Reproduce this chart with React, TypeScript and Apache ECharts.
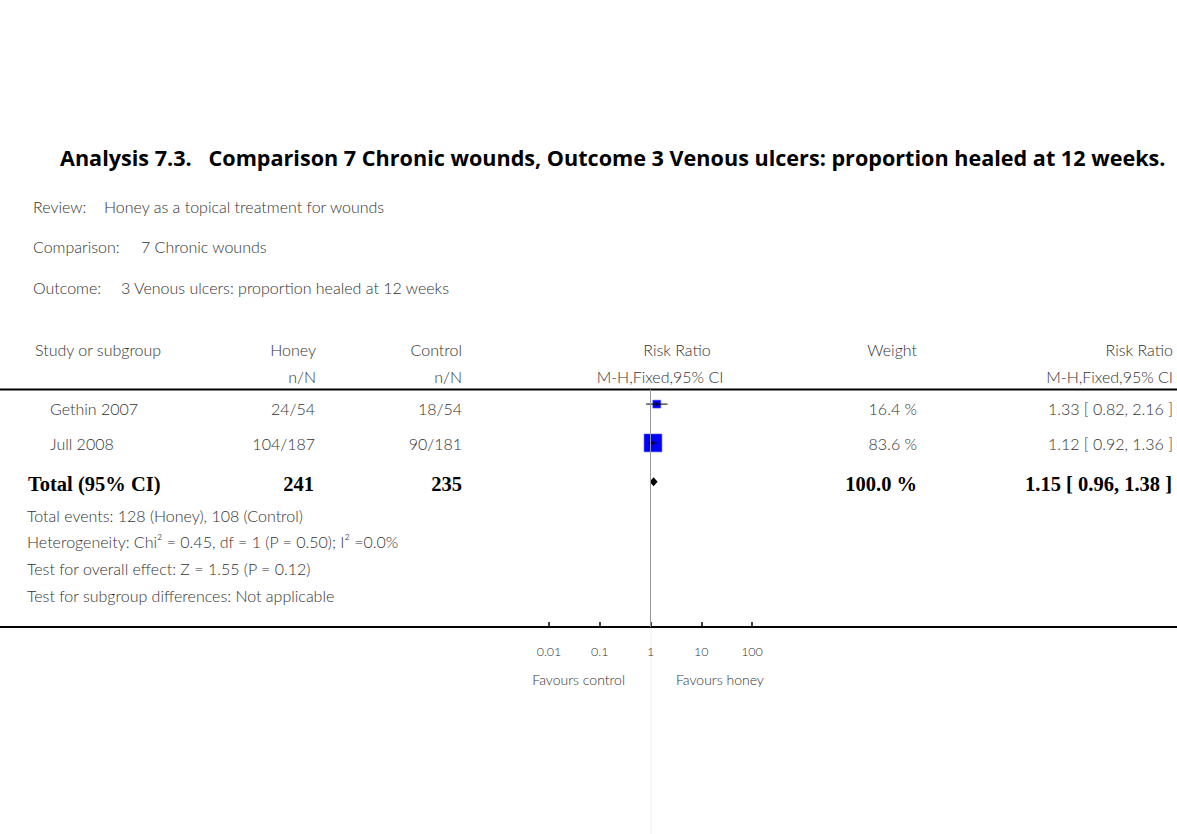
import React, { useEffect, useRef } from "react";
import * as echarts from "echarts";

const studies = ["Gethin 2007", "Jull 2008"];
const honeyEvents = [24, 104];
const honeyTotals = [54, 187];
const controlEvents = [18, 90];
const controlTotals = [54, 181];
const weights = [16.4, 83.6];
const ratios = [1.33, 1.12];
const lowerCI = [0.82, 0.92];
const upperCI = [2.16, 1.36];

const totalHoney = 241;
const totalControl = 235;
const totalWeight = 100.0;
const totalRatio = 1.15;
const totalLower = 0.96;
const totalUpper = 1.38;

const tickValues = [0.01, 0.1, 1, 10, 100];
const tickLabels = ["0.01", "0.1", "1", "10", "100"];

const titleText =
  "Analysis 7.3.   Comparison 7 Chronic wounds, Outcome 3 Venous ulcers: proportion healed at 12 weeks.";
const metaLabels = ["Review:", "Comparison:", "Outcome:"];
const metaValues = [
  "Honey as a topical treatment for wounds",
  "7 Chronic wounds",
  "3 Venous ulcers: proportion healed at 12 weeks",
];
const noteLines = [
  "Total events: 128 (Honey), 108 (Control)",
  "Heterogeneity: Chi² = 0.45, df = 1 (P = 0.50); I² =0.0%",
  "Test for overall effect: Z = 1.55 (P = 0.12)",
  "Test for subgroup differences: Not applicable",
];

const SANS = "Lato, 'Open Sans', sans-serif";
const SERIF = "'Liberation Serif', 'DejaVu Serif', serif";
const TXT = "#333";

function txt(text: string, x: number, y: number, opts: any = {}) {
  const align = opts.align || "left";
  return {
    type: "text",
    x,
    y,
    silent: true,
    style: {
      text,
      fill: opts.fill || TXT,
      fontSize: opts.fontSize || 16,
      fontFamily: opts.fontFamily || SANS,
      fontWeight: opts.fontWeight || 300,
      align,
      textAlign: align,
      verticalAlign: "middle",
      textVerticalAlign: "middle",
    },
  };
}

const fmt2 = (v: number) => v.toFixed(2);

export default function App() {
  const ref = useRef<HTMLDivElement>(null);
  useEffect(() => {
    if (!ref.current) return;
    const chart = echarts.init(ref.current, undefined, { renderer: "svg" });

    const rowY = [408, 443];
    const totalY = 484;

    const graphics: any[] = [];
    graphics.push(
      txt(titleText, 60, 157, {
        fontSize: 21.6,
        fontWeight: "bold",
        fill: "#000",
        fontFamily: "'Open Sans', Lato, sans-serif",
      })
    );
    const metaY = [206, 246, 287];
    const metaValX = [104, 141, 121];
    metaLabels.forEach((t, i) => {
      graphics.push(txt(t, 33, metaY[i]));
      graphics.push(txt(metaValues[i], metaValX[i], metaY[i]));
    });

    // header
    graphics.push(txt("Study or subgroup", 35, 349));
    graphics.push(txt("Honey", 316, 349, { align: "right" }));
    graphics.push(txt("n/N", 316, 376, { align: "right" }));
    graphics.push(txt("Control", 462, 349, { align: "right" }));
    graphics.push(txt("n/N", 462, 376, { align: "right" }));
    graphics.push(txt("Risk Ratio", 677, 349, { align: "center" }));
    graphics.push(txt("M-H,Fixed,95% CI", 660, 376, { align: "center" }));
    graphics.push(txt("Weight", 917, 349, { align: "right" }));
    graphics.push(txt("Risk Ratio", 1173, 349, { align: "right" }));
    graphics.push(txt("M-H,Fixed,95% CI", 1173, 376, { align: "right" }));

    graphics.push({
      type: "line",
      silent: true,
      shape: { x1: 0, y1: 389.5, x2: 1177, y2: 389.5 },
      style: { stroke: "#000", lineWidth: 2 },
    });

    studies.forEach((s, i) => {
      const y = rowY[i];
      graphics.push(txt(s, 50, y));
      graphics.push(txt(`${honeyEvents[i]}/${honeyTotals[i]}`, 315, y, { align: "right" }));
      graphics.push(txt(`${controlEvents[i]}/${controlTotals[i]}`, 462, y, { align: "right" }));
      graphics.push(txt(`${weights[i].toFixed(1)} %`, 917, y, { align: "right" }));
      graphics.push(
        txt(`${fmt2(ratios[i])} [ ${fmt2(lowerCI[i])}, ${fmt2(upperCI[i])} ]`, 1173, y, { align: "right" })
      );
    });

    const bold = { fontFamily: SERIF, fontWeight: "bold", fontSize: 20.5, fill: "#000" };
    graphics.push(txt("Total (95% CI)", 28, totalY, bold));
    graphics.push(txt(String(totalHoney), 314, totalY, { ...bold, align: "right" }));
    graphics.push(txt(String(totalControl), 462, totalY, { ...bold, align: "right" }));
    graphics.push(txt(`${totalWeight.toFixed(1)} %`, 917, totalY, { ...bold, align: "right" }));
    graphics.push(
      txt(`${fmt2(totalRatio)} [ ${fmt2(totalLower)}, ${fmt2(totalUpper)} ]`, 1172, totalY, {
        ...bold,
        align: "right",
      })
    );

    noteLines.forEach((t, i) => graphics.push(txt(t, 27, 515 + i * 26.8)));

    graphics.push({
      type: "line",
      silent: true,
      shape: { x1: 0, y1: 627, x2: 1177, y2: 627 },
      style: { stroke: "#000", lineWidth: 2 },
    });
    graphics.push({
      type: "line",
      silent: true,
      shape: { x1: 651, y1: 628, x2: 651, y2: 834 },
      style: { stroke: "#f0f0f0", lineWidth: 1 },
    });
    graphics.push(txt("Favours control", 625, 679, { fontSize: 14, align: "right" }));
    graphics.push(txt("Favours honey", 676, 679, { fontSize: 14 }));

    const studyData = studies.map((_, i) => [ratios[i], lowerCI[i], upperCI[i], weights[i], i]);
    const totalData = [[totalRatio, totalLower, totalUpper, totalWeight, 2]];

    chart.setOption({
      animation: false,
      backgroundColor: "#fff",
      grid: { left: 549, width: 203, top: 389.5, height: 237.5 },
      xAxis: {
        type: "log",
        logBase: 10,
        min: 0.01,
        max: 100,
        position: "bottom",
        axisLine: { show: false, onZero: false },
        axisTick: { show: true, inside: true, length: 5, lineStyle: { color: "#000", width: 1.5 } },
        minorTick: { show: false },
        splitLine: { show: false },
        axisLabel: {
          margin: 18,
          fontSize: 12.5,
          fontFamily: SANS,
          fontWeight: 300,
          color: TXT,
          formatter: (v: number) => {
            let best = 0;
            tickValues.forEach((t, k) => {
              if (
                Math.abs(Math.log10(t) - Math.log10(v)) <
                Math.abs(Math.log10(tickValues[best]) - Math.log10(v))
              )
                best = k;
            });
            return tickLabels[best];
          },
        },
      },
      yAxis: {
        type: "value",
        inverse: true,
        min: -0.376,
        max: 5.74,
        show: false,
        splitLine: { show: false },
      },
      series: [
        {
          type: "custom",
          encode: { x: [0, 1, 2], y: 4 },
          data: studyData,
          z: 3,
          renderItem: (params: any, api: any) => {
            const row = api.value(4);
            const c = api.coord([api.value(0), row]);
            const l = api.coord([api.value(1), row]);
            const h = api.coord([api.value(2), row]);
            const s = 19.5 * Math.sqrt(api.value(3) / 100);
            return {
              type: "group",
              children: [
                {
                  type: "rect",
                  shape: { x: c[0] - s / 2, y: c[1] - s / 2, width: s, height: s },
                  style: { fill: "#0000ff", stroke: "#5050ff", lineWidth: 0.6 },
                },
                {
                  type: "line",
                  shape: { x1: l[0], y1: c[1], x2: h[0], y2: c[1] },
                  style: { stroke: "#000", lineWidth: 1 },
                },
                {
                  type: "line",
                  shape: { x1: c[0], y1: c[1] - 2, x2: c[0], y2: c[1] + 2 },
                  style: { stroke: "#000", lineWidth: 1 },
                },
              ],
            };
          },
          markLine: {
            silent: true,
            symbol: "none",
            label: { show: false },
            lineStyle: { color: "#999", width: 1, type: "solid" },
            data: [{ xAxis: 1 }],
          },
        },
        {
          type: "custom",
          encode: { x: [0, 1, 2], y: 4 },
          data: totalData,
          z: 3,
          renderItem: (params: any, api: any) => {
            const row = api.value(4);
            const c = api.coord([api.value(0), row]);
            const l = api.coord([api.value(1), row]);
            const h = api.coord([api.value(2), row]);
            return {
              type: "polygon",
              shape: {
                points: [
                  [l[0], c[1]],
                  [c[0], c[1] - 4.5],
                  [h[0], c[1]],
                  [c[0], c[1] + 4.5],
                ],
              },
              style: { fill: "#000" },
            };
          },
        },
      ],
      graphic: graphics,
    });
    return () => chart.dispose();
  }, []);
  return (
    <div
      ref={ref}
      style={{ position: "fixed", left: 0, top: 0, width: 1177, height: 834, background: "#fff" }}
    />
  );
}
